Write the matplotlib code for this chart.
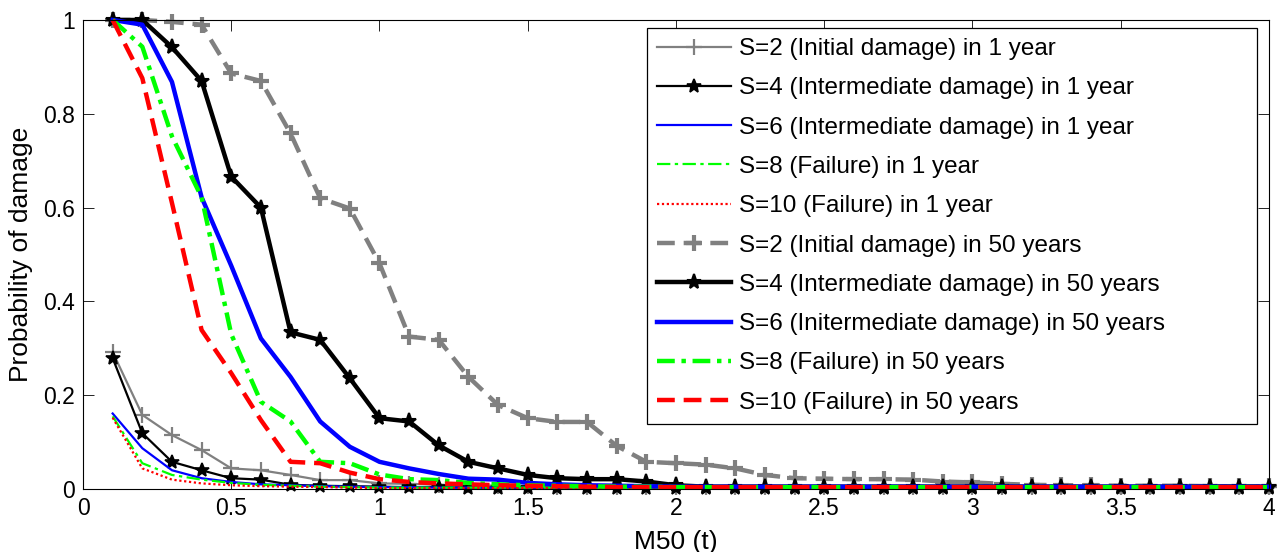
import matplotlib
matplotlib.use("Agg")
from matplotlib import pyplot as plt

plt.rcParams['font.family'] = ['Liberation Sans', 'DejaVu Sans']

# M50 values (t)
m50 = [0.1, 0.2, 0.3, 0.4, 0.5, 0.6, 0.7, 0.8, 0.9, 1.0,
       1.1, 1.2, 1.3, 1.4, 1.5, 1.6, 1.7, 1.8, 1.9, 2.0,
       2.1, 2.2, 2.3, 2.4, 2.5, 2.6, 2.7, 2.8, 2.9, 3.0,
       3.1, 3.2, 3.3, 3.4, 3.5, 3.6, 3.7, 3.8, 3.9, 4.0]

# probability of damage in 1 year
s2_1yr = [0.292, 0.158, 0.115, 0.083, 0.044, 0.040, 0.030, 0.019, 0.019, 0.012,
          0.011, 0.009, 0.008, 0.007, 0.006, 0.005, 0.005, 0.005, 0.005, 0.004,
          0.004, 0.004, 0.004, 0.004, 0.004, 0.004, 0.004, 0.004, 0.004, 0.004,
          0.004, 0.004, 0.004, 0.004, 0.004, 0.004, 0.004, 0.004, 0.004, 0.004]
s4_1yr = [0.279, 0.119, 0.058, 0.040, 0.023, 0.020, 0.009, 0.007, 0.006, 0.005,
          0.004, 0.004, 0.003, 0.003, 0.003, 0.003, 0.003, 0.003, 0.003, 0.003,
          0.003, 0.003, 0.003, 0.003, 0.003, 0.003, 0.003, 0.003, 0.003, 0.003,
          0.003, 0.003, 0.003, 0.003, 0.003, 0.003, 0.003, 0.003, 0.003, 0.003]
s6_1yr = [0.161, 0.087, 0.040, 0.023, 0.015, 0.010, 0.008, 0.006, 0.005, 0.004,
          0.004, 0.003, 0.003, 0.003, 0.003, 0.003, 0.003, 0.003, 0.003, 0.003,
          0.003, 0.003, 0.003, 0.003, 0.003, 0.003, 0.003, 0.003, 0.003, 0.003,
          0.003, 0.003, 0.003, 0.003, 0.003, 0.003, 0.003, 0.003, 0.003, 0.003]
s8_1yr = [0.155, 0.055, 0.030, 0.020, 0.013, 0.009, 0.007, 0.005, 0.004, 0.003,
          0.003, 0.003, 0.003, 0.003, 0.003, 0.003, 0.003, 0.003, 0.003, 0.003,
          0.003, 0.003, 0.003, 0.003, 0.003, 0.003, 0.003, 0.003, 0.003, 0.003,
          0.003, 0.003, 0.003, 0.003, 0.003, 0.003, 0.003, 0.003, 0.003, 0.003]
s10_1yr = [0.152, 0.044, 0.020, 0.012, 0.008, 0.006, 0.005, 0.004, 0.003, 0.002,
           0.002, 0.002, 0.002, 0.002, 0.002, 0.002, 0.002, 0.002, 0.002, 0.002,
           0.002, 0.002, 0.002, 0.002, 0.002, 0.002, 0.002, 0.002, 0.002, 0.002,
           0.002, 0.002, 0.002, 0.002, 0.002, 0.002, 0.002, 0.002, 0.002, 0.002]

# probability of damage in 50 years
s2_50yr = [1.0, 1.0, 0.996, 0.990, 0.886, 0.870, 0.758, 0.620, 0.598, 0.481,
           0.325, 0.318, 0.239, 0.179, 0.151, 0.143, 0.143, 0.092, 0.058, 0.055,
           0.052, 0.044, 0.030, 0.023, 0.022, 0.021, 0.021, 0.020, 0.016, 0.014,
           0.011, 0.009, 0.008, 0.008, 0.007, 0.007, 0.007, 0.006, 0.006, 0.006]
s4_50yr = [1.0, 1.0, 0.942, 0.870, 0.666, 0.600, 0.334, 0.318, 0.236, 0.151,
           0.144, 0.093, 0.058, 0.044, 0.030, 0.023, 0.021, 0.021, 0.016, 0.008,
           0.005, 0.005, 0.005, 0.005, 0.005, 0.005, 0.005, 0.005, 0.005, 0.005,
           0.005, 0.005, 0.005, 0.005, 0.005, 0.005, 0.005, 0.005, 0.005, 0.005]
s6_50yr = [1.0, 0.990, 0.868, 0.622, 0.476, 0.321, 0.239, 0.144, 0.090, 0.058,
           0.044, 0.032, 0.022, 0.020, 0.013, 0.010, 0.008, 0.007, 0.006, 0.005,
           0.005, 0.005, 0.005, 0.005, 0.005, 0.005, 0.005, 0.005, 0.005, 0.005,
           0.005, 0.005, 0.005, 0.005, 0.005, 0.005, 0.005, 0.005, 0.005, 0.005]
s8_50yr = [1.0, 0.943, 0.752, 0.622, 0.330, 0.186, 0.144, 0.058, 0.055, 0.031,
           0.021, 0.019, 0.013, 0.010, 0.008, 0.007, 0.006, 0.005, 0.005, 0.004,
           0.004, 0.004, 0.004, 0.004, 0.004, 0.004, 0.004, 0.004, 0.004, 0.004,
           0.004, 0.004, 0.004, 0.004, 0.004, 0.004, 0.004, 0.004, 0.004, 0.004]
s10_50yr = [1.0, 0.876, 0.610, 0.339, 0.247, 0.147, 0.058, 0.055, 0.035, 0.021,
            0.015, 0.012, 0.010, 0.008, 0.007, 0.006, 0.005, 0.004, 0.004, 0.004,
            0.004, 0.004, 0.004, 0.004, 0.004, 0.004, 0.004, 0.004, 0.004, 0.004,
            0.004, 0.004, 0.004, 0.004, 0.004, 0.004, 0.004, 0.004, 0.004, 0.004]

gray = (0.5, 0.5, 0.5)

fig = plt.figure(figsize=(12.77, 5.52), dpi=100)
ax = fig.add_axes([0.065, 0.1141, 0.9287, 0.8497])

# 1 year curves (thin)
ax.plot(m50, s2_1yr, color=gray, lw=1.6, marker='+', ms=11, mew=1.6,
        label='S=2 (Initial damage) in 1 year', clip_on=False)
ax.plot(m50, s4_1yr, color='k', lw=1.6, marker='*', ms=10, mew=1.2,
        label='S=4 (Intermediate damage) in 1 year', clip_on=False)
ax.plot(m50, s6_1yr, color='b', lw=1.6,
        label='S=6 (Intermediate damage) in 1 year', clip_on=False)
ax.plot(m50, s8_1yr, color=(0, 1, 0), lw=1.6, ls=(0, (6, 2, 1.5, 2)),
        label='S=8 (Failure) in 1 year', clip_on=False)
ax.plot(m50, s10_1yr, color='r', lw=1.6, ls=(0, (1, 1.2)),
        label='S=10 (Failure) in 1 year', clip_on=False)

# 50 year curves (thick)
ax.plot(m50, s2_50yr, color=gray, lw=3.2, ls=(0, (4, 2)), marker='+', ms=12, mew=3,
        label='S=2 (Initial damage) in 50 years', clip_on=False)
ax.plot(m50, s4_50yr, color='k', lw=3.2, marker='*', ms=11, mew=1.5,
        label='S=4 (Intermediate damage) in 50 years', clip_on=False)
ax.plot(m50, s6_50yr, color='b', lw=3.2,
        label='S=6 (Initermediate damage) in 50 years', clip_on=False)
ax.plot(m50, s8_50yr, color=(0, 1, 0), lw=3.2, ls=(0, (4, 1.5, 1, 1.5)),
        label='S=8 (Failure) in 50 years', clip_on=False)
ax.plot(m50, s10_50yr, color='r', lw=3.2, ls=(0, (4, 2)),
        label='S=10 (Failure) in 50 years', clip_on=False)

ax.set_xlim(0, 4)
ax.set_ylim(0, 1)
ax.set_xticks([0, 0.5, 1, 1.5, 2, 2.5, 3, 3.5, 4])
ax.set_xticklabels(['0', '0.5', '1', '1.5', '2', '2.5', '3', '3.5', '4'])
ax.set_yticks([0, 0.2, 0.4, 0.6, 0.8, 1])
ax.set_yticklabels(['0', '0.2', '0.4', '0.6', '0.8', '1'])
ax.tick_params(direction='in', length=8, width=0.6, top=True, right=True,
               labelsize=16.5, pad=6)
for sp in ax.spines.values():
    sp.set_linewidth(0.8)

ax.set_xlabel('M50 (t)', fontsize=19, labelpad=7)
ax.set_ylabel('Probability of damage', fontsize=19, labelpad=7)

# wide legend box like the original (text left, empty space on the right)
leg = ax.legend(loc='upper left', bbox_to_anchor=(0.4755, 0.0, 0.5144, 0.983),
                mode='expand', borderaxespad=0,
                fontsize=17.5, fancybox=False, edgecolor='k', framealpha=1,
                handlelength=3.05, handletextpad=0.33, labelspacing=0.71,
                borderpad=0.42)
leg.get_frame().set_linewidth(0.9)

fig.savefig('out.png', dpi=100)
